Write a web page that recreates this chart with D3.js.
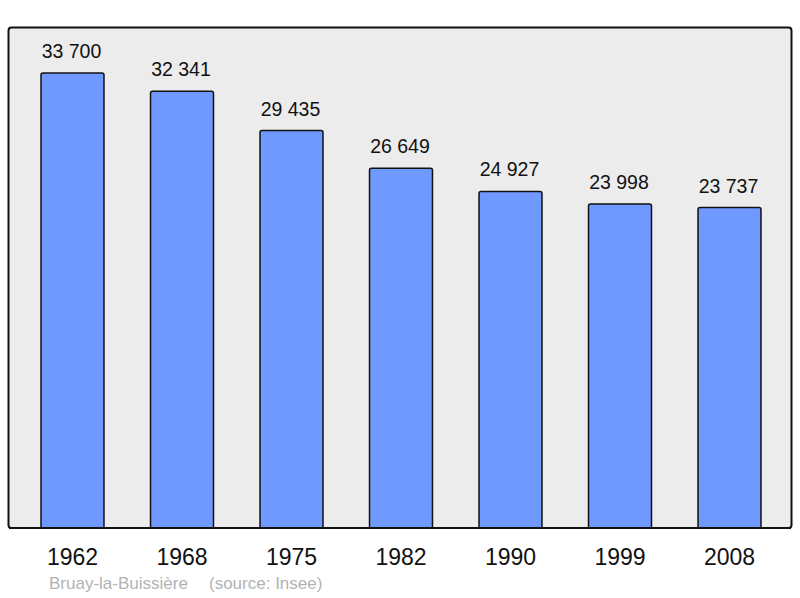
<!DOCTYPE html>
<html>
<head>
<meta charset="utf-8">
<script src="https://cdn.jsdelivr.net/npm/d3@7"></script>
<style>
  body { margin: 0; background: #fff; }
  text { font-family: "Liberation Sans", Arial, sans-serif; }
</style>
</head>
<body>
<svg id="chart" width="800" height="598"></svg>
<script>
const years = ['1962', '1968', '1975', '1982', '1990', '1999', '2008'];
const population = [33700, 32341, 29435, 26649, 24927, 23998, 23737];
const town = 'Bruay-la-Buissière';
const source = '(source: Insee)';

const fmt = n => d3.format(',')(n).replace(/,/g, ' ');

const svg = d3.select('#chart');

// frame
svg.append('rect')
  .attr('x', 8.5).attr('y', 27.5)
  .attr('width', 783).attr('height', 500.5)
  .attr('rx', 3).attr('ry', 3)
  .attr('fill', '#ececec')
  .attr('stroke', '#111')
  .attr('stroke-width', 2);

const x = d3.scaleBand().domain(years).range([17.75, 784.25]).paddingInner(0.425).paddingOuter(0.2125);
const y = d3.scaleLinear().domain([0, 33700]).range([528, 73]);

const g = svg.append('g');
g.selectAll('rect.bar').data(population).enter().append('rect')
  .attr('class', 'bar')
  .attr('x', (d, i) => x(years[i]))
  .attr('y', d => y(d))
  .attr('width', x.bandwidth())
  .attr('height', d => y(0) - y(d) + 3)
  .attr('rx', 2).attr('ry', 2)
  .attr('fill', '#7099ff')
  .attr('stroke', '#111')
  .attr('stroke-width', 1.5);

// redraw bottom frame line over bars
svg.append('line')
  .attr('x1', 9).attr('x2', 791)
  .attr('y1', 528).attr('y2', 528)
  .attr('stroke', '#111').attr('stroke-width', 2);
svg.append('rect')
  .attr('x', 0).attr('y', 529).attr('width', 800).attr('height', 6)
  .attr('fill', '#fff');

g.selectAll('text.val').data(population).enter().append('text')
  .attr('class', 'val')
  .attr('x', (d, i) => x(years[i]) + x.bandwidth() / 2 - 1)
  .attr('y', d => y(d) - 15)
  .attr('text-anchor', 'middle')
  .attr('font-size', 19.5)
  .attr('fill', '#111')
  .text(d => fmt(d));

const xAxis = d3.axisBottom(x).tickSize(0).tickPadding(0);
const ax = svg.append('g').attr('transform', 'translate(0,549)').call(xAxis);
ax.select('.domain').remove();
ax.selectAll('text')
  .attr('font-size', 23)
  .attr('fill', '#111')
  .attr('dy', '0.71em')
  .style('font-family', '"Liberation Sans", Arial, sans-serif');

svg.append('text')
  .attr('x', 49).attr('y', 589)
  .attr('font-size', 17)
  .attr('fill', '#b3b3b3')
  .text(town);
svg.append('text')
  .attr('x', 209).attr('y', 589)
  .attr('font-size', 17)
  .attr('fill', '#b3b3b3')
  .text(source);
</script>
</body>
</html>
